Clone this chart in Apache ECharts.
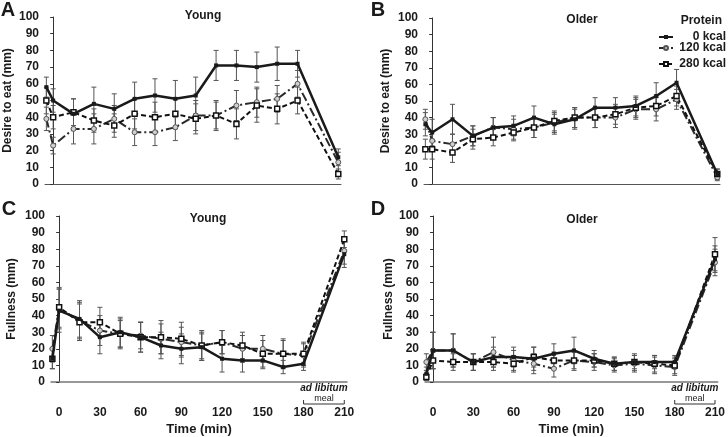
<!DOCTYPE html>
<html>
<head>
<meta charset="utf-8">
<script src="https://cdn.jsdelivr.net/npm/echarts@6/dist/echarts.min.js"></script>
<style>
  html, body { margin: 0; padding: 0; background: #fff; }
  #chart { width: 728px; height: 437px; }
</style>
</head>
<body>
<div id="chart"></div>
<script>
// time points (min), -5 = baseline before the drink
const times = [-5, 0, 15, 30, 45, 60, 75, 90, 105, 120, 135, 150, 165, 180, 210];
const timeLabels = [0, 30, 60, 90, 120, 150, 180, 210];
const seriesNames = ['0 kcal', '120 kcal', '280 kcal'];

// A: desire to eat, young
const youngDesire0 = [58, 50, 42, 48, 45, 51, 53, 51, 53, 71, 71, 70, 72, 72, 16];
const youngDesire0Err = [6, 7, 9, 10, 9, 10, 10, 11, 11, 9, 9, 9, 10, 8, 5];
const youngDesire120 = [39, 23, 33, 33, 39, 31, 31, 34, 41, 41, 47, 49, 51, 60, 13];
const youngDesire120Err = [7, 5, 9, 9, 8, 8, 8, 8, 9, 9, 9, 9, 8, 8, 6];
const youngDesire280 = [50, 40, 43, 38, 35, 42, 40, 42, 39, 41, 36, 47, 45, 50, 6];
const youngDesire280Err = [8, 7, 8, 7, 7, 9, 9, 9, 9, 8, 9, 10, 9, 8, 3];

// B: desire to eat, older
const olderDesire0 = [36, 31, 39, 29, 34, 35, 40, 36, 39, 46, 46, 47, 53, 61, 6];
const olderDesire0Err = [7, 8, 9, 6, 6, 6, 7, 6, 6, 6, 6, 6, 8, 8, 3];
const olderDesire120 = [39, 26, 24, 29, 34, 33, 34, 37, 40, 40, 40, 45, 45, 51, 4];
const olderDesire120Err = [6, 6, 6, 6, 6, 6, 6, 6, 6, 6, 6, 6, 7, 6, 2];
const olderDesire280 = [21, 21, 19, 27, 28, 31, 34, 38, 40, 40, 42, 46, 47, 53, 6];
const olderDesire280Err = [6, 6, 6, 6, 5, 5, 6, 6, 6, 6, 6, 6, 6, 6, 3];

// C: fullness, young
const youngFull0 = [14, 43, 38, 27, 30, 27, 22, 20, 21, 14, 13, 13, 9, 11, 77];
const youngFull0Err = [6, 13, 11, 10, 9, 9, 8, 9, 8, 8, 7, 5, 4, 4, 8];
const youngFull120 = [20, 44, 37, 31, 29, 28, 26, 24, 22, 24, 20, 20, 17, 16, 79];
const youngFull120Err = [8, 12, 11, 9, 8, 8, 9, 9, 8, 7, 8, 8, 8, 7, 8];
const youngFull280 = [14, 45, 36, 36, 29, 27, 27, 26, 22, 24, 22, 17, 17, 17, 86];
const youngFull280Err = [6, 12, 11, 9, 9, 9, 10, 10, 9, 7, 8, 8, 9, 7, 5];

// D: fullness, older
const olderFull0 = [5, 19, 19, 12, 15, 15, 14, 17, 19, 14, 11, 12, 12, 12, 74];
const olderFull0Err = [4, 11, 10, 5, 6, 6, 7, 6, 8, 5, 4, 4, 4, 4, 8];
const olderFull120 = [12, 19, 19, 12, 18, 13, 11, 8, 13, 12, 10, 11, 10, 9, 72];
const olderFull120Err = [5, 11, 10, 5, 9, 6, 6, 5, 6, 5, 4, 5, 5, 5, 8];
const olderFull280 = [3, 13, 12, 12, 12, 11, 15, 13, 13, 13, 11, 12, 11, 10, 77];
const olderFull280Err = [2, 5, 5, 5, 5, 5, 6, 5, 5, 4, 4, 5, 5, 5, 10];

const panels = [
    { means: [youngDesire0, youngDesire120, youngDesire280], errs: [youngDesire0Err, youngDesire120Err, youngDesire280Err] },
    { means: [olderDesire0, olderDesire120, olderDesire280], errs: [olderDesire0Err, olderDesire120Err, olderDesire280Err] },
    { means: [youngFull0, youngFull120, youngFull280], errs: [youngFull0Err, youngFull120Err, youngFull280Err] },
    { means: [olderFull0, olderFull120, olderFull280], errs: [olderFull0Err, olderFull120Err, olderFull280Err] }
];

const FONT = '"Liberation Sans", Arial, sans-serif';
const INK = '#1a1a1a';

const grids = [
    { left: 45, top: 17, width: 296, height: 167 },
    { left: 424, top: 18, width: 296, height: 166 },
    { left: 51, top: 216, width: 296, height: 166 },
    { left: 425, top: 216, width: 296, height: 166 }
];
const yNames = ['Desire to eat (mm)', 'Desire to eat (mm)', 'Fullness (mm)', 'Fullness (mm)'];
const yGaps = [31, 32, 33, 30];

const lineStyles = [
    { color: INK, width: 2.5, type: 'solid' },
    { color: '#2a2a2a', width: 2, type: [9, 3, 2, 3] },
    { color: '#111', width: 2, type: [5, 3] }
];
const markers = [
    { symbol: 'rect', symbolSize: 4, itemStyle: { color: INK, borderColor: INK, borderWidth: 0 } },
    { symbol: 'circle', symbolSize: 5, itemStyle: { color: '#cfcfcf', borderColor: '#555', borderWidth: 1 } },
    { symbol: 'rect', symbolSize: 5, itemStyle: { color: '#fff', borderColor: '#111', borderWidth: 1.5 } }
];

function errRender(params, api) {
    const x = api.value(0);
    const lo = api.coord([x, api.value(1)]);
    const hi = api.coord([x, api.value(2)]);
    const c = 2.5;
    const st = { stroke: '#555', lineWidth: 1 };
    return {
        type: 'group',
        children: [
            { type: 'line', shape: { x1: lo[0], y1: lo[1], x2: hi[0], y2: hi[1] }, style: st },
            { type: 'line', shape: { x1: lo[0] - c, y1: lo[1], x2: lo[0] + c, y2: lo[1] }, style: st },
            { type: 'line', shape: { x1: hi[0] - c, y1: hi[1], x2: hi[0] + c, y2: hi[1] }, style: st }
        ]
    };
}

const xAxes = [], yAxes = [], series = [];
grids.forEach((g, i) => {
    const bottomRow = i >= 2;
    xAxes.push({
        gridIndex: i, type: 'value', min: -6, max: 212,
        axisLine: { show: true, lineStyle: { color: bottomRow ? '#777' : '#555', width: bottomRow ? 1.5 : 1 } },
        axisTick: { show: false },
        splitLine: { show: false },
        axisLabel: {
            show: bottomRow, customValues: timeLabels, margin: 25,
            color: INK, fontFamily: FONT, fontWeight: 'bold', fontSize: 12
        },
        name: bottomRow ? 'Time (min)' : '', nameLocation: 'middle', nameGap: 41,
        nameTextStyle: { color: INK, fontFamily: FONT, fontWeight: 'bold', fontSize: 13 }
    });
    yAxes.push({
        gridIndex: i, type: 'value', min: 0, max: 100, interval: 10,
        axisLine: { show: true, lineStyle: { color: '#333', width: 1 } },
        axisTick: { show: true, length: 3, lineStyle: { color: '#333' } },
        splitLine: { show: false },
        axisLabel: { color: INK, fontFamily: FONT, fontWeight: 'bold', fontSize: 12, margin: 6 },
        name: yNames[i], nameLocation: 'middle', nameGap: yGaps[i], nameRotate: 90,
        nameTextStyle: { color: INK, fontFamily: FONT, fontWeight: 'bold', fontSize: 12 }
    });
    const p = panels[i];
    [1, 2, 0].forEach(k => {
        series.push({
            type: 'custom', name: 'err', xAxisIndex: i, yAxisIndex: i, z: 1,
            renderItem: errRender, silent: true,
            data: times.map((t, j) => [t, p.means[k][j] - p.errs[k][j], p.means[k][j] + p.errs[k][j]])
        });
    });
    [1, 2, 0].forEach(k => {
        series.push(Object.assign({
            type: 'line', name: seriesNames[k], xAxisIndex: i, yAxisIndex: i, z: 3 + (k === 0 ? 1 : 0),
            lineStyle: lineStyles[k], showSymbol: true,
            data: times.map((t, j) => [t, p.means[k][j]])
        }, markers[k]));
    });
});

const legendBase = {
    orient: 'vertical', left: 653, itemWidth: 14, itemHeight: 5, itemGap: 4, selectedMode: false,
    textStyle: {
        color: INK, fontFamily: FONT, fontWeight: 'bold', fontSize: 12,
        rich: { n: { width: 48, align: 'right', color: INK, fontFamily: FONT, fontWeight: 'bold', fontSize: 12 } }
    },
    formatter: name => '{n|' + name + '}'
};
const legendTops = [26, 37, 53];

const chart = echarts.init(document.getElementById('chart'), null, { renderer: 'canvas' });
chart.setOption({
    animation: false,
    backgroundColor: '#fff',
    grid: grids,
    xAxis: xAxes,
    yAxis: yAxes,
    legend: seriesNames.map((n, k) => Object.assign({}, legendBase, { top: legendTops[k], data: [n] })),
    series: series
});

// panel letters, titles, legend header and the ad libitum meal bracket
const txt = (text, x, y, size, extra) => ({
    type: 'text', x: x, y: y, silent: true,
    style: Object.assign({ text: text, fill: INK, font: 'bold ' + size + 'px ' + FONT, align: 'center', verticalAlign: 'middle' }, extra || {})
});
const gfx = [
    txt('A', 8, 10, 20), txt('B', 378, 10, 20), txt('C', 9, 209, 20), txt('D', 378, 209, 20),
    txt('Young', 203, 16, 12), txt('Older', 582, 20, 12), txt('Young', 208, 219, 12), txt('Older', 582, 220, 12),
    txt('Protein', 722, 21, 12, { align: 'right' })
];
[2, 3].forEach(i => {
    const a = chart.convertToPixel({ xAxisIndex: i }, 180);
    const b = chart.convertToPixel({ xAxisIndex: i }, 210);
    const base = chart.convertToPixel({ yAxisIndex: i }, 0);
    const mid = (a + b) / 2;
    gfx.push(txt('ad libitum', mid, base + 6, 10, { font: 'italic bold 10px ' + FONT }));
    gfx.push(txt('meal', mid, base + 17, 9, { font: '9px ' + FONT }));
    gfx.push({
        type: 'polyline', silent: true,
        shape: { points: [[a, base + 18], [a, base + 22], [b, base + 22], [b, base + 18]] },
        style: { stroke: '#333', lineWidth: 1, fill: null }
    });
});
chart.setOption({ graphic: gfx });
</script>
</body>
</html>
